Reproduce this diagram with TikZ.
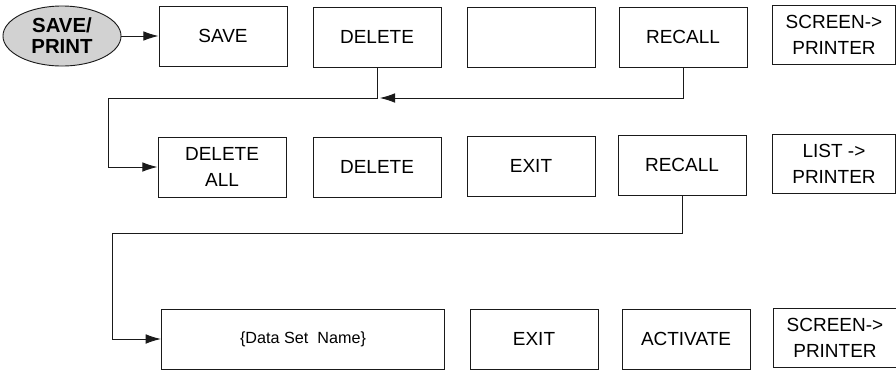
\documentclass[tikz,border=0pt]{standalone}
\usepackage{fontspec}
\setmainfont{Liberation Sans}
\usetikzlibrary{arrows.meta,positioning,shapes.geometric}
\definecolor{menuInk}{HTML}{1A1A1A}
\definecolor{menuGrey}{HTML}{D2D2D2}

\begin{document}
\begin{tikzpicture}[
  x=0.025cm,y=-0.025cm,
  font=\fontsize{13.5}{18.5}\selectfont,
  key/.style={draw=menuInk,line width=0.65pt,minimum width=3.2cm,minimum height=1.5cm,align=center,inner sep=1pt},
  narrow/.style={key,minimum width=3.08cm,minimum height=1.48cm},
  wide/.style={key,minimum width=7.08cm,font=\fontsize{11.5}{14}\selectfont},
  mode/.style={ellipse,draw=menuInk,line width=0.65pt,fill=menuGrey,minimum width=2.95cm,minimum height=1.5cm,inner sep=0pt,align=center,font=\bfseries\fontsize{14.5}{15}\selectfont},
  edge/.style={-{Latex[length=3.8mm,width=2.4mm]},line width=0.65pt,draw=menuInk}
]
\useasboundingbox (0,0) rectangle (896,371);

\node[mode] (mode) at (62,36) {SAVE/\\PRINT};
\node[key] (save) at (223,36) {SAVE};
\node[key] (delete) at (377,37) {DELETE};
\node[key] (blank) at (531,37) {};
\node[key] (recall) at (683,37) {RECALL};
\node[narrow] (screen) at (834,35) {SCREEN->\\PRINTER};

\node[key] (deleteall) at (222,167) {DELETE\\ALL};
\node[key] (deleteone) at (377,167) {DELETE};
\node[key] (exit) at (531,166) {EXIT};
\node[key] (recallset) at (682,165) {RECALL};
\node[narrow] (list) at (834,164) {LIST ->\\PRINTER};

\node[wide] (dataset) at (303,339) {\{Data Set\ \ Name\}};
\node[key] (exitset) at (534,339) {EXIT};
\node[key] (activate) at (686,339) {ACTIVATE};
\node[narrow] (screenset) at (835,338) {SCREEN->\\PRINTER};

\coordinate (upperbend) at (108,98);
\coordinate (lowerbend) at (112,233);

\draw[edge] (mode) -- (save);
\draw[edge] (delete.south) |- (upperbend) |- (deleteall.west);
\draw[edge,shorten >=2pt] (recall.south) |- (delete.south |- upperbend);
\draw[edge] (recallset.south) |- (lowerbend) |- (dataset.west);
\end{tikzpicture}
\end{document}
